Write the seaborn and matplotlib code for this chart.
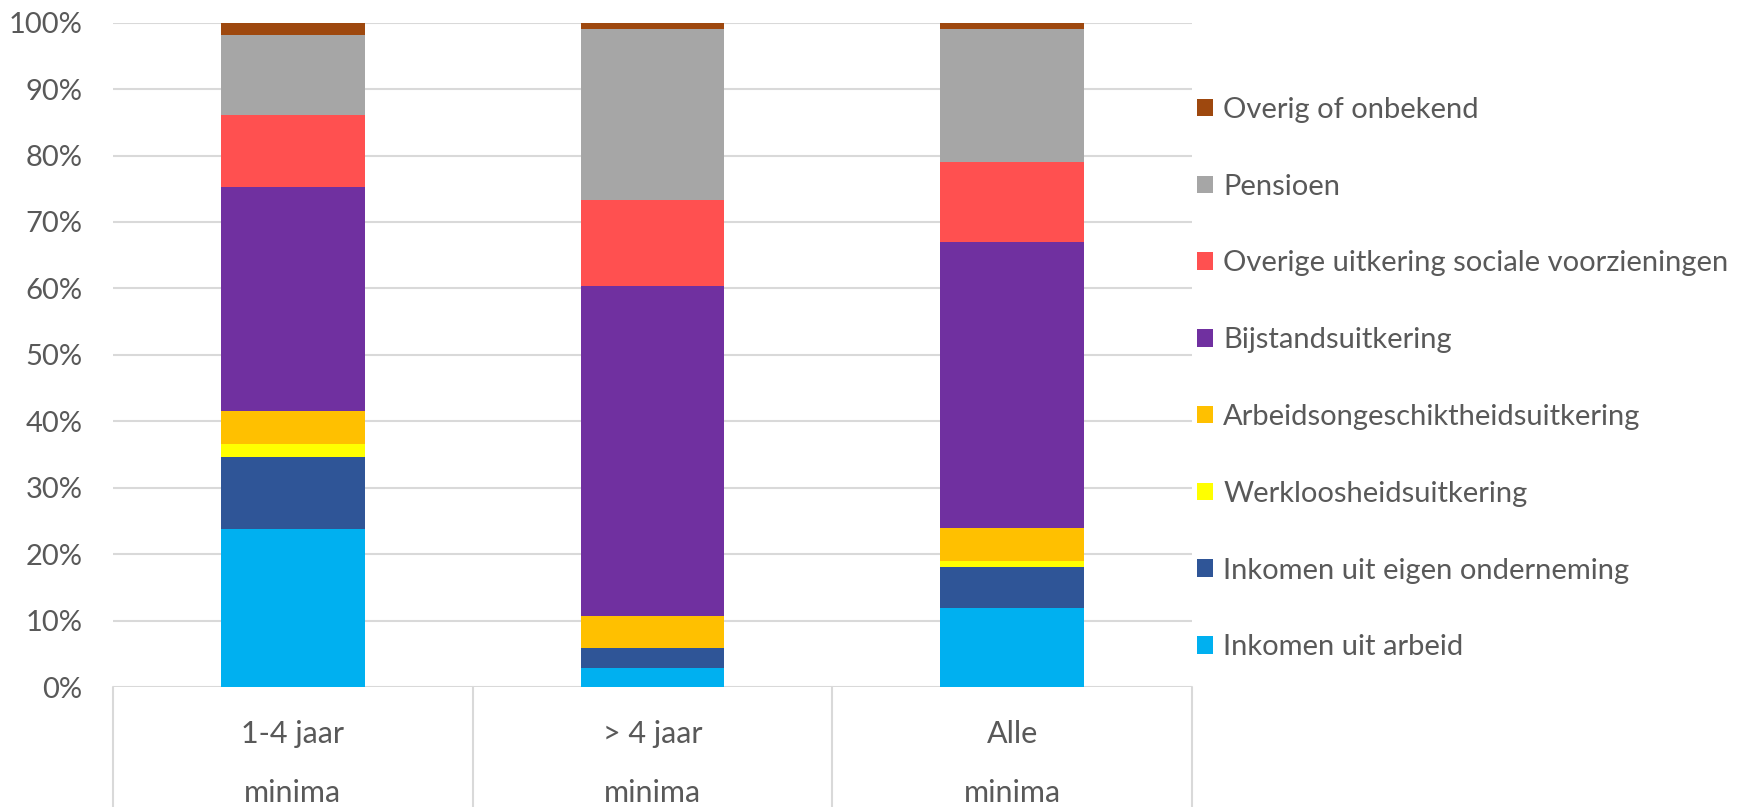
import matplotlib
matplotlib.use("Agg")
import matplotlib.pyplot as plt
from matplotlib.patches import Patch
import numpy as np
import seaborn as sns

categories_line1 = ["1-4 jaar", "> 4 jaar", "Alle"]
categories_line2 = ["minima", "minima", "minima"]
categories = ["1-4 jaar minima", "> 4 jaar minima", "Alle minima"]

series_names = [
    "Inkomen uit arbeid",
    "Inkomen uit eigen onderneming",
    "Werkloosheidsuitkering",
    "Arbeidsongeschiktheidsuitkering",
    "Bijstandsuitkering",
    "Overige uitkering sociale voorzieningen",
    "Pensioen",
    "Overig of onbekend",
]
inkomen_arbeid = [23.8, 2.9, 11.9]
eigen_onderneming = [10.8, 3.0, 6.1]
werkloosheid = [2.0, 0.0, 1.0]
arbeidsongeschikt = [5.0, 4.8, 4.9]
bijstand = [33.7, 49.7, 43.1]
overige_uitkering = [10.8, 12.9, 12.1]
pensioen = [12.1, 25.8, 20.0]
overig = [1.8, 0.9, 0.9]
series_values = [inkomen_arbeid, eigen_onderneming, werkloosheid, arbeidsongeschikt,
                 bijstand, overige_uitkering, pensioen, overig]
colors = ["#00B0F0", "#2F5597", "#FFFF00", "#FFC000", "#7030A0", "#FF5050", "#A6A6A6", "#9E480E"]
yticks = [0, 10, 20, 30, 40, 50, 60, 70, 80, 90, 100]
ytick_labels = [f"{t}%" for t in yticks]

sns.set_theme(style="white")
plt.rcParams["font.family"] = ["Lato", "DejaVu Sans"]
TXT = "#595959"
GRID = "#D9D9D9"
FS = 21
FS_CAT = 22

fig = plt.figure(figsize=(17.44, 8.07), dpi=100)
W, H = 1744, 807
ax = fig.add_axes([113 / W, 1 - 687 / H, (1192 - 113) / W, (687 - 22.7) / H])

bottom = np.zeros(len(categories))
for name, vals, col in zip(series_names, series_values, colors):
    v = np.array(vals, dtype=float) / 100.0
    sns.barplot(x=categories, y=v, bottom=bottom, color=col, width=0.40,
                errorbar=None, ax=ax, saturation=1, linewidth=0, zorder=3)
    bottom = bottom + v

ax.set_xlim(-0.5, 2.5)
ax.set_ylim(0, 1)
ax.set_yticks([t / 100 for t in yticks])
ax.set_yticklabels(ytick_labels, fontsize=FS, color=TXT)
ax.tick_params(axis="y", length=0, pad=22)
ax.tick_params(axis="x", length=0, labelbottom=False)
ax.set_xlabel("")
ax.set_ylabel("")
for s in ax.spines.values():
    s.set_visible(False)
ax.yaxis.grid(True, color=GRID, linewidth=1.5, zorder=0)
ax.set_axisbelow(True)

trans = ax.get_xaxis_transform()
for xs in [-0.5, 0.5, 1.5, 2.5]:
    ax.plot([xs, xs], [0, -0.3], transform=trans, color=GRID, linewidth=1.5, clip_on=False)
for i, (l1, l2) in enumerate(zip(categories_line1, categories_line2)):
    ax.text(i, -(734 - 687) / 664, l1, transform=trans, ha="center", va="center",
            fontsize=FS_CAT, color=TXT)
    ax.text(i, -(793 - 687) / 664, l2, transform=trans, ha="center", va="center",
            fontsize=FS_CAT, color=TXT)

handles = [Patch(facecolor=c, edgecolor="none") for c in colors][::-1]
labels = series_names[::-1]
leg = fig.legend(handles, labels, loc="upper left", bbox_to_anchor=(1197 / W, 1 - 97 / H),
                 frameon=False, fontsize=FS, handlelength=0.55, handleheight=0.55,
                 handletextpad=0.35, labelspacing=1.74, borderaxespad=0, borderpad=0)
for t in leg.get_texts():
    t.set_color(TXT)

fig.savefig("out.png", dpi=100)
